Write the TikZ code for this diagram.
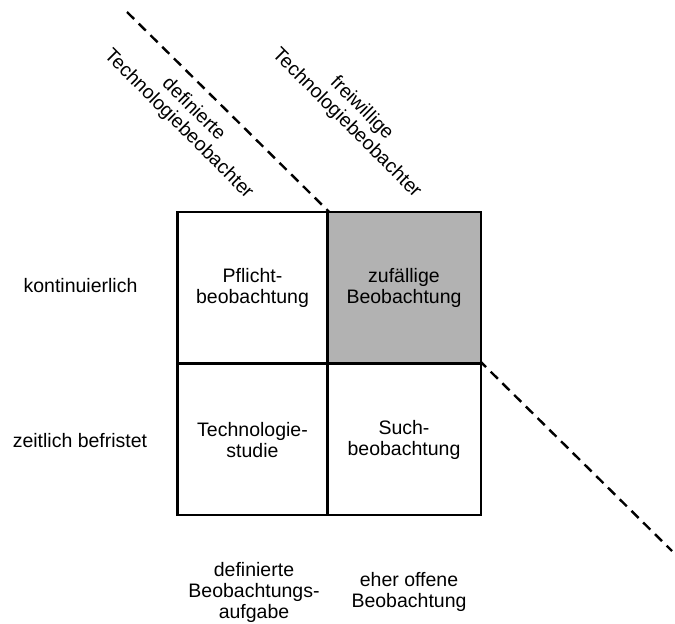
\documentclass[tikz,border=0pt]{standalone}
\usepackage{fontspec}
\setmainfont{Liberation Sans}
\begin{document}
\begin{tikzpicture}[x=1pt,y=-1pt,
  lbl/.style={font=\fontsize{19.5}{21}\selectfont, align=center, inner sep=0pt},
  diag/.style={lbl, rotate=-45},
  frame/.style={line width=2.6pt},
  divider/.style={line width=2.4pt, dash pattern=on 10pt off 6.5pt}]
\useasboundingbox (0,0) rectangle (675,624);

% corners of the matrix
\coordinate (tl) at (177.5,212);
\coordinate (br) at (481,515);
\coordinate (tm) at (327.5,212);
\coordinate (mr) at (481,363.5);

% dashed divider between defined and voluntary observers
\coordinate (dstart) at (127,12);
\coordinate (dend) at (672,551);
\draw[divider] (dstart) -- (dend);

% shaded quadrant and grid
\fill[gray!60] (tm) rectangle (mr);
\draw[frame] (tl) rectangle (br);
\draw[frame] (327.5,212) -- (327.5,515);
\draw[frame] (177.5,363.5) -- (481,363.5);

% quadrant labels
\node[lbl] (q11) at (252.5,287.5) {Pflicht-\\beobachtung};
\node[lbl] (q12) at (404,287.5) {zufällige\\Beobachtung};
\node[lbl] (q21) at (252.5,440) {Technologie-\\studie};
\node[lbl] (q22) at (404,440) {Such-\\beobachtung};

% row labels
\node[lbl, anchor=base] (r1) at (80.5,292) {kontinuierlich};
\node[lbl, anchor=base] (r2) at (80,447) {zeitlich befristet};

% column labels (base = last line)
\node[lbl, anchor=base] (c1) at (254,618) {definierte\\Beobachtungs-\\aufgabe};
\node[lbl, anchor=base] (c2) at (409,607) {eher offene\\Beobachtung};

% observer groups along the divider
\node[diag] (g1) at (186,117) {definierte\\Technologiebeobachter};
\node[diag] (g2) at (354,116) {freiwillige\\Technologiebeobachter};
\end{tikzpicture}
\end{document}
